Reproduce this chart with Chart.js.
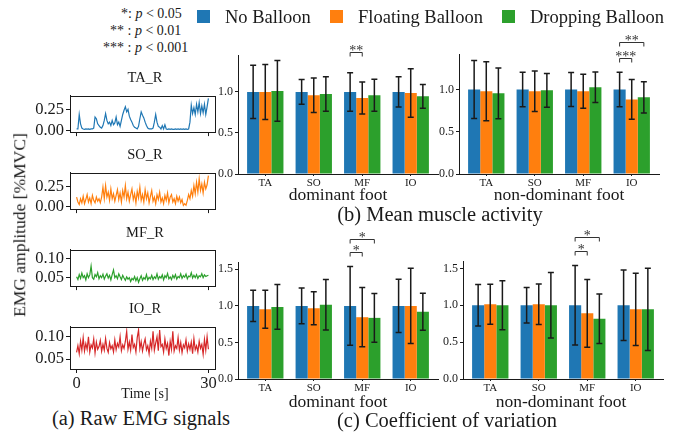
<!DOCTYPE html>
<html><head><meta charset="utf-8">
<script src="https://cdn.jsdelivr.net/npm/chart.js@4"></script>
<style>
body{margin:0;background:#fff;width:688px;height:435px;overflow:hidden;position:relative;font-family:"Liberation Serif",serif;color:#1a1a1a}
canvas{position:absolute}
.t{position:absolute;white-space:nowrap;line-height:1;transform:translate(-50%,-50%)}
.l{position:absolute;white-space:nowrap;line-height:1;transform:translateY(-50%)}
.sq{position:absolute;width:13px;height:13px}
</style></head><body>
<canvas id="s1" width="222" height="60" style="left:0;top:84px"></canvas>
<canvas id="s2" width="222" height="60" style="left:0;top:161px"></canvas>
<canvas id="s3" width="222" height="60" style="left:0;top:238px"></canvas>
<canvas id="s4" width="222" height="76" style="left:0;top:315px"></canvas>
<canvas id="b1" width="250" height="162" style="left:195px;top:30px"></canvas>
<canvas id="b2" width="250" height="164" style="left:416px;top:28px"></canvas>
<canvas id="c1" width="250" height="175" style="left:195px;top:222px"></canvas>
<canvas id="c2" width="250" height="175" style="left:420px;top:222px"></canvas>

<div class="l" style="left:121px;top:14px;font-size:14px">*: <i>p</i> &lt; 0.05</div>
<div class="l" style="left:110px;top:31px;font-size:14px">** : <i>p</i> &lt; 0.01</div>
<div class="l" style="left:103px;top:48px;font-size:14px">*** : <i>p</i> &lt; 0.001</div>

<div class="sq" style="left:197px;top:10px;background:#1f77b4"></div>
<div class="l" style="left:225px;top:17px;font-size:18.5px">No Balloon</div>
<div class="sq" style="left:330px;top:10px;background:#ff7f0e"></div>
<div class="l" style="left:358px;top:17px;font-size:18.5px">Floating Balloon</div>
<div class="sq" style="left:502px;top:10px;background:#2ca02c"></div>
<div class="l" style="left:530px;top:17px;font-size:18.5px">Dropping Balloon</div>

<div class="t" style="left:145px;top:77px;font-size:14.5px">TA_R</div>
<div class="t" style="left:145px;top:154px;font-size:14.5px">SO_R</div>
<div class="t" style="left:145px;top:232px;font-size:14.5px">MF_R</div>
<div class="t" style="left:145px;top:308px;font-size:14.5px">IO_R</div>
<div class="t" style="left:20px;top:225px;font-size:17.5px;transform:translate(-50%,-50%) rotate(-90deg)">EMG amplitude [%MVC]</div>
<div class="t" style="left:145px;top:394px;font-size:14px">Time [s]</div>
<div class="t" style="left:141px;top:418px;font-size:20.5px">(a) Raw EMG signals</div>

<div class="t" style="left:338px;top:195px;font-size:17.5px">dominant foot</div>
<div class="t" style="left:559px;top:195px;font-size:17.5px">non-dominant foot</div>
<div class="t" style="left:440px;top:214px;font-size:20.5px">(b) Mean muscle activity</div>
<div class="t" style="left:338px;top:402px;font-size:17.5px">dominant foot</div>
<div class="t" style="left:561px;top:402px;font-size:17.5px">non-dominant foot</div>
<div class="t" style="left:447px;top:420px;font-size:20.5px">(c) Coefficient of variation</div>

<script>
// ---------- data ----------
const categories = ['TA', 'SO', 'MF', 'IO'];
const conditions = ['No Balloon', 'Floating Balloon', 'Dropping Balloon'];
const timeStep = 0.3; // seconds between samples, 0..30 s

const rawTA = [0.02,0.02,0.19,0.08,0.03,0.02,0.015,0.02,0.018,0.02,0.015,0.02,0.02,0.03,0.16,0.14,0.08,0.06,0.04,0.03,
  0.06,0.12,0.2,0.12,0.08,0.1,0.06,0.12,0.07,0.09,0.16,0.07,0.1,0.05,0.12,0.19,0.24,0.28,0.22,0.25,
  0.17,0.13,0.1,0.06,0.04,0.03,0.02,0.05,0.14,0.22,0.18,0.15,0.1,0.06,0.03,0.02,0.02,0.02,0.03,0.1,
  0.19,0.1,0.05,0.04,0.02,0.06,0.02,0.07,0.02,0.015,0.02,0.015,0.02,0.015,0.015,0.02,0.015,0.02,0.015,0.02,
  0.015,0.02,0.015,0.02,0.015,0.02,0.1,0.3,0.2,0.27,0.19,0.31,0.22,0.33,0.2,0.29,0.21,0.31,0.19,0.28,0.38];
const rawSO = [0.12,0.06,0.03,0.1,0.05,0.13,0.04,0.09,0.15,0.06,0.11,0.04,0.14,0.08,0.05,0.12,0.07,0.1,0.05,0.12,
  0.24,0.1,0.26,0.12,0.18,0.08,0.22,0.1,0.16,0.07,0.14,0.21,0.09,0.17,0.06,0.2,0.12,0.26,0.1,0.18,
  0.07,0.15,0.22,0.09,0.16,0.05,0.19,0.11,0.24,0.08,0.15,0.06,0.21,0.1,0.17,0.05,0.13,0.2,0.07,0.12,
  0.04,0.15,0.09,0.18,0.06,0.11,0.04,0.14,0.08,0.17,0.05,0.12,0.15,0.06,0.1,0.04,0.13,0.07,0.12,0.05,
  0.09,0.02,0.04,0.02,0.08,0.15,0.1,0.2,0.13,0.26,0.16,0.3,0.18,0.34,0.2,0.28,0.17,0.3,0.22,0.27,0.38];
const rawMF = [0.052,0.045,0.058,0.048,0.062,0.05,0.055,0.044,0.06,0.05,0.057,0.08,0.05,0.046,0.058,0.052,0.063,0.047,0.055,0.05,
  0.059,0.046,0.054,0.06,0.049,0.056,0.044,0.058,0.07,0.05,0.055,0.047,0.06,0.052,0.045,0.056,0.049,0.043,0.052,0.046,
  0.05,0.04,0.048,0.044,0.053,0.042,0.05,0.038,0.047,0.055,0.043,0.05,0.046,0.058,0.044,0.051,0.047,0.056,0.045,0.052,
  0.048,0.06,0.046,0.053,0.049,0.057,0.044,0.055,0.05,0.061,0.047,0.052,0.045,0.056,0.049,0.058,0.046,0.053,0.05,0.06,
  0.048,0.055,0.051,0.059,0.047,0.054,0.052,0.063,0.049,0.056,0.05,0.058,0.048,0.055,0.052,0.06,0.05,0.057,0.053,0.055,0.056];
const rawIO = [0.065,0.08,0.062,0.09,0.07,0.098,0.068,0.085,0.072,0.1,0.066,0.082,0.075,0.095,0.064,0.088,0.072,0.078,0.092,0.068,
  0.083,0.07,0.096,0.074,0.065,0.087,0.073,0.08,0.066,0.093,0.071,0.085,0.077,0.1,0.069,0.082,0.074,0.09,0.112,0.072,
  0.088,0.07,0.105,0.076,0.083,0.066,0.098,0.115,0.073,0.089,0.068,0.084,0.095,0.071,0.08,0.062,0.09,0.074,0.112,0.07,
  0.086,0.1,0.069,0.115,0.078,0.083,0.066,0.095,0.074,0.085,0.058,0.09,0.072,0.112,0.068,0.08,0.074,0.098,0.07,0.087,
  0.065,0.082,0.075,0.093,0.068,0.084,0.072,0.088,0.062,0.096,0.071,0.08,0.066,0.09,0.074,0.083,0.061,0.094,0.07,0.1,0.072];

// (b) mean muscle activity, dominant foot
const meanDomNo    = [1.0, 1.0, 1.0, 1.0];
const meanDomFloat = [1.0, 0.96, 0.927, 0.988];
const meanDomDrop  = [1.012, 0.976, 0.96, 0.947];
const meanDomNoErr    = [0.325, 0.15, 0.235, 0.185];
const meanDomFloatErr = [0.335, 0.21, 0.195, 0.295];
const meanDomDropErr  = [0.37, 0.21, 0.195, 0.145];
// (b) mean muscle activity, non-dominant foot
const meanNonNo    = [1.0, 1.0, 1.0, 1.0];
const meanNonFloat = [0.979, 0.979, 0.979, 0.883];
const meanNonDrop  = [0.955, 0.99, 1.026, 0.907];
const meanNonNoErr    = [0.343, 0.205, 0.2, 0.205];
const meanNonFloatErr = [0.35, 0.24, 0.2, 0.234];
const meanNonDropErr  = [0.3, 0.2, 0.18, 0.186];
// (c) coefficient of variation, dominant foot
const cvDomNo    = [1.0, 1.0, 1.0, 1.0];
const cvDomFloat = [0.955, 0.968, 0.845, 1.0];
const cvDomDrop  = [0.986, 1.014, 0.836, 0.918];
const cvDomNoErr    = [0.215, 0.245, 0.54, 0.365];
const cvDomFloatErr = [0.26, 0.226, 0.405, 0.513];
const cvDomDropErr  = [0.305, 0.345, 0.333, 0.253];
// (c) coefficient of variation, non-dominant foot
const cvNonNo    = [1.0, 1.0, 1.0, 1.0];
const cvNonFloat = [1.014, 1.014, 0.89, 0.945];
const cvNonDrop  = [1.0, 1.0, 0.817, 0.945];
const cvNonNoErr    = [0.28, 0.24, 0.54, 0.477];
const cvNonFloatErr = [0.27, 0.275, 0.46, 0.49];
const cvNonDropErr  = [0.333, 0.445, 0.336, 0.557];

// significance brackets: [category index, condition a, condition b, level, label]
const sigMeanDom = [[2, 0, 1, 1.488, '**']];
const sigMeanNon = [[3, 0, 1, 1.372, '***'], [3, 0, 2, 1.563, '**']];
const sigCvDom   = [[2, 0, 1, 1.737, '*'], [2, 0, 2, 1.915, '*']];
const sigCvNon   = [[2, 0, 1, 1.735, '*'], [2, 0, 2, 1.927, '*']];

// ---------- drawing ----------
const barColors = ['#1f77b4', '#ff7f0e', '#2ca02c'];
const ink = '#1a1a1a';
const serif = "'Liberation Serif', serif";
Chart.defaults.font.family = serif;

function barChart(id, means, errs, sig, ymax, yticks, padTop) {
  const extras = {
    id: 'extras' + id,
    afterDatasetsDraw(chart) {
      const ctx = chart.ctx, y = chart.scales.y;
      ctx.save();
      ctx.strokeStyle = ink; ctx.lineWidth = 1.5;
      chart.data.datasets.forEach((ds, di) => {
        chart.getDatasetMeta(di).data.forEach((el, i) => {
          const v = ds.data[i].y, e = ds.errors[i];
          const t = y.getPixelForValue(v + e), b = y.getPixelForValue(v - e);
          ctx.beginPath();
          ctx.moveTo(el.x, t); ctx.lineTo(el.x, b);
          ctx.moveTo(el.x - 3, t); ctx.lineTo(el.x + 3, t);
          ctx.moveTo(el.x - 3, b); ctx.lineTo(el.x + 3, b);
          ctx.stroke();
        });
      });
      ctx.lineWidth = 1; ctx.strokeStyle = '#333'; ctx.fillStyle = '#333';
      ctx.font = '14px ' + serif; ctx.textAlign = 'center'; ctx.textBaseline = 'alphabetic';
      sig.forEach(([cat, a, b, level, label]) => {
        const x1 = chart.getDatasetMeta(a).data[cat].x;
        const x2 = chart.getDatasetMeta(b).data[cat].x;
        const yy = Math.round(y.getPixelForValue(level)) + 0.5;
        ctx.beginPath();
        ctx.moveTo(x1, yy + 4); ctx.lineTo(x1, yy); ctx.lineTo(x2, yy); ctx.lineTo(x2, yy + 4);
        ctx.stroke();
        ctx.fillText(label, (x1 + x2) / 2, yy + 2);
      });
      ctx.restore();
    }
  };
  new Chart(document.getElementById(id), {
    type: 'bar',
    data: {
      datasets: means.map((m, di) => ({
        label: conditions[di],
        data: m.map((v, i) => ({ x: i, y: v })),
        errors: errs[di],
        backgroundColor: barColors[di],
        borderWidth: 0,
        barPercentage: 1,
        categoryPercentage: 0.75
      }))
    },
    options: {
      responsive: false, animation: false, devicePixelRatio: 1,
      layout: { padding: { top: padTop, right: 7, left: 0, bottom: 0 } },
      plugins: { legend: { display: false }, tooltip: { enabled: false } },
      scales: {
        x: {
          type: 'linear', min: -0.5625, max: 3.5625, offset: false,
          afterBuildTicks: s => { s.ticks = categories.map((c, i) => ({ value: i })); },
          afterFit: s => { s.height = 18; },
          ticks: { callback: v => categories[v], font: { family: serif, size: 11 }, color: ink, padding: 1, maxRotation: 0, autoSkip: false },
          grid: { display: true, offset: false, drawOnChartArea: false, tickLength: 2, color: ink },
          border: { display: true, color: ink, width: 1 }
        },
        y: {
          min: 0, max: ymax,
          afterBuildTicks: s => { s.ticks = yticks.map(v => ({ value: v })); },
          afterFit: s => { s.width = 43; },
          ticks: { callback: v => v.toFixed(1), font: { family: serif, size: 12 }, color: ink, padding: 2 },
          grid: { display: true, drawOnChartArea: false, tickLength: 3, color: ink },
          border: { display: true, color: ink, width: 1 }
        }
      }
    },
    plugins: [extras]
  });
}

function sigChart(id, vals, color, ymin, ymax, yticks, showX) {
  const frame = {
    id: 'frame' + id,
    afterDraw(chart) {
      const a = chart.chartArea, ctx = chart.ctx;
      ctx.save(); ctx.strokeStyle = ink; ctx.lineWidth = 1;
      ctx.strokeRect(Math.round(a.left) + 0.5, Math.round(a.top) + 0.5, Math.round(a.right - a.left), Math.round(a.bottom - a.top));
      ctx.restore();
    }
  };
  new Chart(document.getElementById(id), {
    type: 'line',
    data: { datasets: [{ data: vals.map((v, i) => ({ x: i * timeStep, y: v })), borderColor: color, borderWidth: 1.2, pointRadius: 0, tension: 0, fill: false }] },
    options: {
      responsive: false, animation: false, devicePixelRatio: 1,
      layout: { padding: { top: 3, right: 7, left: 0, bottom: 0 } },
      plugins: { legend: { display: false }, tooltip: { enabled: false } },
      scales: {
        x: {
          type: 'linear', min: -1.5, max: 31.5,
          afterBuildTicks: s => { s.ticks = [{ value: 0 }, { value: 30 }]; },
          afterFit: s => { s.height = showX ? 22 : 6; },
          ticks: { callback: v => showX ? String(v) : '', font: { family: serif, size: 16.5 }, color: ink, padding: 1, maxRotation: 0 },
          grid: { display: true, drawOnChartArea: false, tickLength: 4, color: ink },
          border: { display: true, color: ink, width: 1 }
        },
        y: {
          min: ymin, max: ymax,
          afterBuildTicks: s => { s.ticks = yticks.map(v => ({ value: v })); },
          afterFit: s => { s.width = 70; },
          ticks: { callback: v => v.toFixed(2), font: { family: serif, size: 16.5 }, color: ink, padding: 2 },
          grid: { display: true, drawOnChartArea: false, tickLength: 4, color: ink },
          border: { display: true, color: ink, width: 1 }
        }
      }
    },
    plugins: [frame]
  });
}

sigChart('s1', rawTA, '#1f77b4', -0.017, 0.408, [0, 0.25], false);
sigChart('s2', rawSO, '#ff7f0e', -0.026, 0.414, [0, 0.25], false);
sigChart('s3', rawMF, '#2ca02c', 0.028, 0.122, [0.05, 0.10], false);
sigChart('s4', rawIO, '#d62728', 0.028, 0.122, [0.05, 0.10], true);
barChart('b1', [meanDomNo, meanDomFloat, meanDomDrop], [meanDomNoErr, meanDomFloatErr, meanDomDropErr], sigMeanDom, 1.45, [0, 0.5, 1.0], 25);
barChart('b2', [meanNonNo, meanNonFloat, meanNonDrop], [meanNonNoErr, meanNonFloatErr, meanNonDropErr], sigMeanNon, 1.42, [0, 0.5, 1.0], 26);
barChart('c1', [cvDomNo, cvDomFloat, cvDomDrop], [cvDomNoErr, cvDomFloatErr, cvDomDropErr], sigCvDom, 1.6, [0, 0.5, 1.0, 1.5], 40);
barChart('c2', [cvNonNo, cvNonFloat, cvNonDrop], [cvNonNoErr, cvNonFloatErr, cvNonDropErr], sigCvNon, 1.6, [0, 0.5, 1.0, 1.5], 39);
</script>
</body></html>
